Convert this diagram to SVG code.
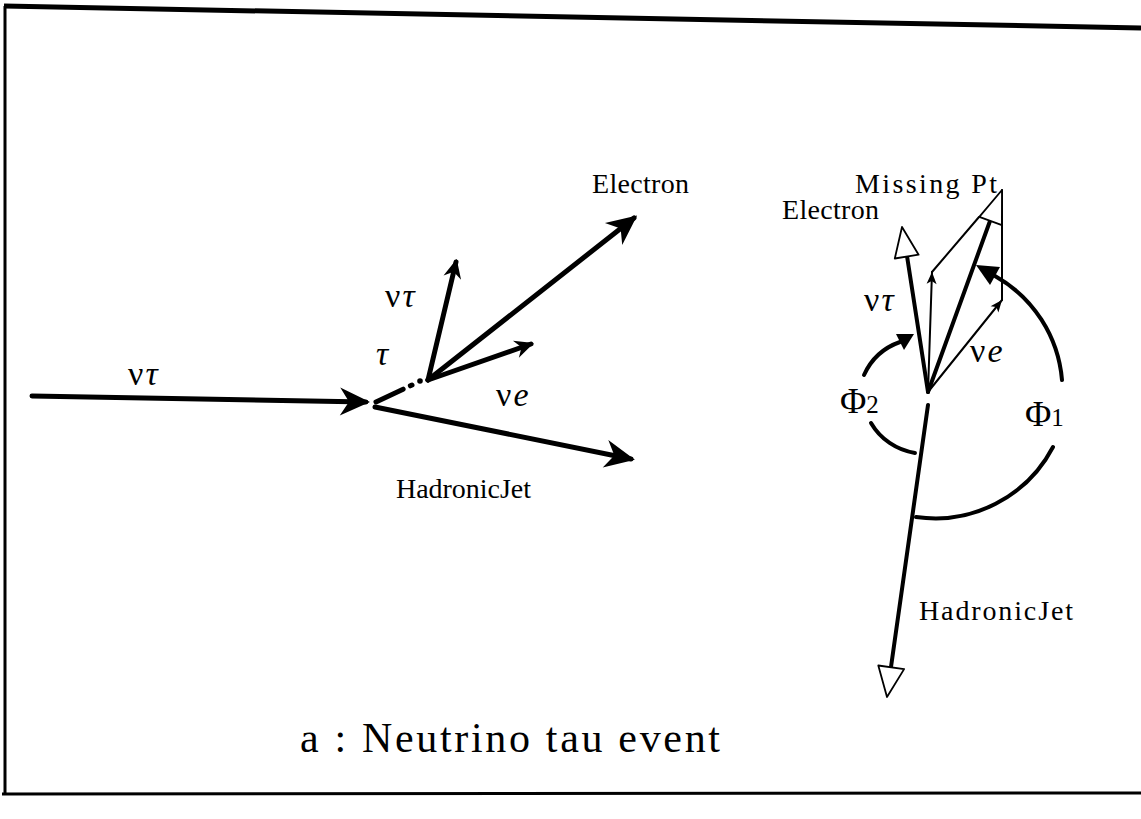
<svg xmlns="http://www.w3.org/2000/svg" width="1141" height="819" viewBox="0 0 1141 819">
<style>
text{font-family:"Liberation Serif","Times New Roman",serif;fill:#000}
.lbl{font-size:28px}
.grk{font-size:34px;letter-spacing:2px}
.gr{font-size:36px}
.thick{stroke:#000;stroke-width:5;fill:none;stroke-linecap:round}
.med{stroke:#000;stroke-width:4;fill:none;stroke-linecap:round}
.thin{stroke:#000;stroke-width:2;fill:none;stroke-linecap:round}
.open{fill:#fff;stroke:#000;stroke-width:1.8;stroke-linejoin:round}
</style>
<defs>
<marker id="big" markerUnits="userSpaceOnUse" viewBox="-32 -16 34 32" markerWidth="34" markerHeight="32" refX="-4" refY="0" orient="auto">
<path d="M0,0 L-30,-14 L-21,0 L-30,14 Z" fill="#000"/>
</marker>
<marker id="small" markerUnits="userSpaceOnUse" viewBox="-22 -12 24 24" markerWidth="24" markerHeight="24" refX="-3" refY="0" orient="auto">
<path d="M0,0 L-19,-9 L-13,0 L-19,9 Z" fill="#000"/>
</marker>
<marker id="tiny" markerUnits="userSpaceOnUse" viewBox="-14 -7 16 14" markerWidth="16" markerHeight="14" refX="0" refY="0" orient="auto">
<path d="M0,0 L-12,-5 L-9,0 L-12,5 Z" fill="#000"/>
</marker>
</defs>
<g id="frame">
<path d="M4 6 L1141 28" stroke="#000" stroke-width="5" fill="none"/>
<path d="M5 6 L5 795" stroke="#000" stroke-width="3" fill="none"/>
<path d="M2 794 L1141 793" stroke="#000" stroke-width="3" fill="none"/>
</g>
<g id="connectors">
<g id="left-event">
<path class="thick" d="M32 396 L366 402" marker-end="url(#big)"/>
<path class="thick" d="M376 402 L412 385" stroke-dasharray="30 8"/>
<circle cx="420" cy="381" r="2.8" fill="#000"/>
<path class="thick" d="M428 380 L634 218" marker-end="url(#big)"/>
<path class="thick" d="M428 380 L456 262" marker-end="url(#small)"/>
<path class="thick" d="M428 380 L531 344" marker-end="url(#small)"/>
<path class="thick" d="M375 407 L631 459" marker-end="url(#big)"/>
</g>
<g id="right-event">
<path class="thin" d="M928 392 L932 272" marker-end="url(#tiny)"/>
<path class="thin" d="M928 392 L1002 300" marker-end="url(#tiny)"/>
<path class="thin" d="M932 272 L979 217"/>
<path class="thin" d="M1002 300 L1002 190"/>
<path class="med" d="M928 392 L907 256"/>
<polygon class="open" points="902,227 918.6,254.7 894.8,258.5"/>
<path class="med" d="M928 392 L990 221"/>
<polygon class="open" points="1002,190 1001.9,225.1 979.3,216.9"/>
<path class="med" d="M928 405 L891 667"/>
<polygon class="open" points="887,697 904.1,669.1 878.3,665.5"/>
<path class="med" d="M995 276 A132 132 0 0 1 1062 380"/>
<polygon points="976,265 1000,267 990,285" fill="#000"/>
<path class="med" d="M1053 447 A133 133 0 0 1 916 517"/>
<path class="med" d="M864 375 A62 62 0 0 1 900 342"/>
<polygon points="914,334 904,350 896,334" fill="#000"/>
<path class="med" d="M871 423 A62 62 0 0 0 915 453"/>
</g>
</g>
<g id="labels-left">
<text class="grk" x="128" y="385">ν<tspan font-style="italic">τ</tspan></text>
<text class="grk" x="376" y="365" font-style="italic">τ</text>
<text class="grk" x="385" y="307">ν<tspan font-style="italic">τ</tspan></text>
<text class="grk" x="496" y="406">ν<tspan font-style="italic">e</tspan></text>
<text class="lbl" x="592" y="193" textLength="97">Electron</text>
<text class="lbl" x="396" y="498" textLength="135">HadronicJet</text>
</g>
<g id="labels-right">
<text class="lbl" x="782" y="219" textLength="97">Electron</text>
<text class="lbl" x="855" y="193" font-size="29" textLength="142">Missing Pt</text>
<text class="grk" x="864" y="311">ν<tspan font-style="italic">τ</tspan></text>
<text class="grk" x="970" y="362">ν<tspan font-style="italic">e</tspan></text>
<text class="gr" x="840" y="413">Φ<tspan font-size="25">2</tspan></text>
<text class="gr" x="1025" y="426">Φ<tspan font-size="25">1</tspan></text>
<text class="lbl" x="919" y="620" font-size="30" textLength="154">HadronicJet</text>
</g>
<g id="caption">
<text x="300" y="752" font-size="42" textLength="420">a : Neutrino  tau event</text>
</g>
</svg>
